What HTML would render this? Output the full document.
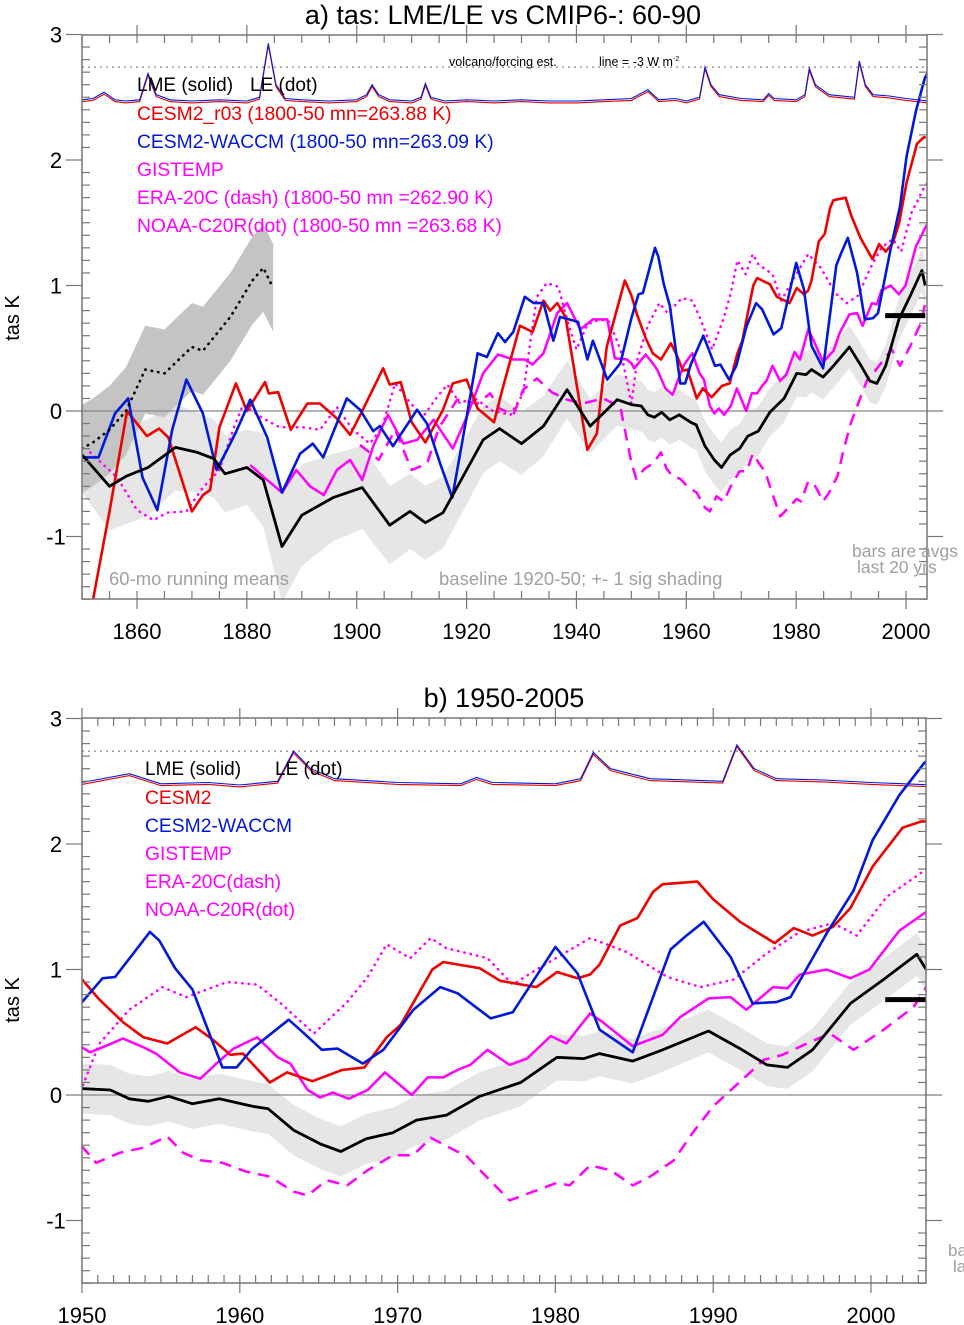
<!DOCTYPE html>
<html><head><meta charset="utf-8">
<style>
html,body{margin:0;padding:0;background:#fff;}
svg{display:block;font-family:"Liberation Sans",Arial,sans-serif;}
</style></head>
<body>
<svg id="chart" width="964" height="1325" viewBox="0 0 964 1325" xmlns="http://www.w3.org/2000/svg">
<defs>
<clipPath id="clipA"><rect x="82" y="35" width="845" height="564"/></clipPath>
<clipPath id="clipB"><rect x="82" y="718" width="844" height="565"/></clipPath>
</defs>
<text x="503" y="24" font-size="27" text-anchor="middle">a) tas: LME/LE vs CMIP6-: 60-90</text>
<text x="504" y="707" font-size="27" text-anchor="middle">b) 1950-2005</text>
<text transform="translate(19,318) rotate(-90)" font-size="20" text-anchor="middle">tas K</text>
<text transform="translate(19,1000) rotate(-90)" font-size="20" text-anchor="middle">tas K</text>
<g id="gA"></g>
<g id="gB"></g>
</svg>
<script>
// ---- data (years / anomaly K) ----
const blackT=[1850,1852,1855,1858,1862,1867,1871,1874,1876,1880,1883,1886.4,1890,1895.7,1901,1906,1909.7,1912.5,1915.7,1920,1923,1926,1930,1934,1938.3,1942.5,1947.4,1950.1,1951.8,1953,1954.2,1955.5,1957,1958.7,1960.8,1961.8,1963.4,1965.1,1966.4,1968,1969.7,1971.2,1973.1,1975.2,1977.8,1980.1,1981.8,1982.8,1984.9,1986.8,1989.7,1991.7,1993.4,1994.7,1996.3,1998.7,2000.8,2002.9,2003.5];
const blackV=[-0.35,-0.45,-0.6,-0.52,-0.45,-0.29,-0.33,-0.38,-0.5,-0.45,-0.55,-1.08,-0.83,-0.69,-0.61,-0.91,-0.8,-0.89,-0.81,-0.47,-0.23,-0.14,-0.26,-0.12,0.17,-0.12,0.09,0.05,0.04,-0.03,-0.05,-0.01,-0.07,-0.03,-0.09,-0.11,-0.28,-0.39,-0.45,-0.35,-0.3,-0.2,-0.16,-0.01,0.1,0.3,0.29,0.33,0.27,0.36,0.51,0.37,0.24,0.22,0.36,0.73,0.92,1.12,1.0];
const sigT=[1850,1860,1870,1880,1886,1895,1910,1930,1950,1970,1990,2004];
const sigV=[0.3,0.4,0.32,0.3,0.45,0.35,0.3,0.25,0.2,0.2,0.17,0.17];
const leT=[1850,1852,1855,1858,1861.5,1865,1870,1872,1877,1881,1883,1884.8];
const leV=[-0.3,-0.25,-0.15,0.0,0.33,0.3,0.51,0.48,0.75,1.04,1.14,0.98];
const leSig=0.35;
const redT=[1852,1855,1858.2,1861.8,1864,1865.7,1870,1872,1873.3,1875,1878,1880,1883.3,1884,1885.7,1888,1891,1893.3,1896.4,1898.8,1901,1904.8,1906,1908,1910,1912.5,1915.7,1917.5,1920,1922,1925,1926.5,1929.7,1932,1934,1935.2,1936.5,1938,1942,1943.7,1945.5,1948.8,1950,1951.1,1952.6,1953.9,1955.4,1957.2,1958.3,1959.4,1960.2,1961.9,1963,1964.6,1966.5,1967.9,1969.3,1970.2,1972.2,1972.9,1973.8,1975.2,1976.5,1978.8,1980.1,1981.4,1982.2,1982.8,1984.1,1985.2,1986.2,1986.8,1989,1990,1991.7,1993.9,1995.1,1996.3,1997.6,1998.7,2000.1,2002,2003.2,2003.6];
const redV=[-1.5,-0.8,0.0,-0.2,-0.14,-0.21,-0.8,-0.67,-0.63,-0.13,0.22,0.0,0.23,0.14,0.15,-0.15,0.06,0.06,-0.06,-0.19,0.0,0.34,0.21,0.23,-0.09,-0.25,0.01,0.22,0.25,0.02,-0.09,0.17,0.68,0.63,0.88,0.8,0.86,0.75,-0.31,-0.18,0.51,1.04,0.92,0.76,0.58,0.46,0.41,0.54,0.44,0.32,0.33,0.1,0.18,0.11,0.2,0.22,0.46,0.56,1.0,1.06,1.04,1.01,0.91,0.86,0.98,0.93,0.96,1.04,1.35,1.41,1.62,1.68,1.7,1.56,1.38,1.21,1.33,1.27,1.34,1.49,1.82,2.13,2.18,2.18];
const blueT=[1850,1853,1856,1858.4,1861,1863.7,1866.4,1869,1872,1874.5,1876.4,1878.2,1880.6,1883.7,1886.4,1889.7,1892,1893.9,1898.2,1900.6,1903,1904.2,1906.6,1911,1912.8,1915.2,1917.4,1920,1922,1923.7,1925.7,1927,1928.5,1930.6,1932.2,1934,1935.8,1937,1940.3,1942,1943,1945.6,1948,1950,1951.3,1952.1,1954.3,1954.9,1955.9,1957,1958.9,1959.8,1960.8,1963.1,1964,1965.2,1966.2,1967.8,1969.1,1971,1972.7,1973.8,1975.9,1977.3,1980,1981.4,1982.8,1984.9,1987.3,1988.3,1989.4,1991.1,1992.5,1994,1994.9,1997.2,1998.9,2000.1,2001.8,2003.4,2004];
const blueV=[-0.37,-0.37,-0.02,0.1,-0.53,-0.79,-0.15,0.25,-0.02,-0.47,-0.31,-0.15,0.09,-0.21,-0.65,-0.34,-0.26,-0.37,0.1,0.01,-0.16,-0.12,-0.28,0.01,-0.1,-0.42,-0.69,-0.05,0.46,0.43,0.62,0.55,0.63,0.91,0.86,0.86,0.56,0.75,0.71,0.41,0.56,0.25,0.38,0.74,0.93,0.94,1.3,1.23,1.01,0.84,0.22,0.22,0.37,0.6,0.5,0.36,0.37,0.25,0.36,0.68,0.86,0.81,0.61,0.66,1.18,0.97,0.52,0.34,1.16,1.27,1.38,1.1,0.73,0.74,0.78,1.29,1.63,2.03,2.39,2.65,2.7];
const gisT=[1880.6,1883.7,1886.4,1889,1891.5,1894,1896.4,1898.8,1901,1903,1905.7,1908.5,1911,1914,1917.5,1920,1923,1925.7,1928.5,1930.6,1932,1934,1936.5,1938.3,1940.7,1943,1945.6,1947,1949.2,1950,1950.5,1951.3,1952.6,1953.9,1954.7,1956.2,1957.5,1958.6,1959.6,1961.1,1962.4,1963.2,1964.3,1965.1,1965.9,1966.9,1968.1,1969.2,1970.9,1971.9,1972.9,1973.8,1974.6,1975.7,1977.1,1978.2,1979.7,1980.7,1982.2,1983,1984.9,1986.8,1987.9,1989.7,1991.1,1992.1,1993.8,1994.7,1995.5,1997.2,1998.7,1999.9,2001.8,2003.4,2004];
const gisV=[-0.43,-0.55,-0.65,-0.47,-0.6,-0.67,-0.47,-0.39,-0.55,-0.28,-0.03,-0.26,-0.23,-0.07,-0.3,-0.05,0.3,0.45,0.41,0.41,0.37,0.46,0.78,0.86,0.65,0.73,0.73,0.42,0.41,0.38,0.34,0.38,0.45,0.38,0.33,0.18,0.13,0.26,0.37,0.46,0.3,0.25,0.04,-0.02,0.02,-0.03,0.04,0.18,0.0,0.14,0.14,0.2,0.24,0.36,0.24,0.29,0.47,0.41,0.65,0.58,0.39,0.48,0.62,0.77,0.78,0.68,0.86,0.85,0.96,1.0,0.93,1.0,1.31,1.45,1.5];
const eraT=[1900.6,1904,1907,1910,1912.8,1915,1918.3,1922,1924.3,1926,1928.5,1930.3,1932.8,1935.5,1938.3,1941.2,1944.9,1948,1950,1950.9,1952.4,1953.9,1955.4,1956.4,1957.5,1958.9,1960.4,1961.9,1963.4,1964.3,1965.5,1966.8,1968.1,1969.7,1971,1972.1,1973.3,1974.4,1975.7,1977.1,1978.6,1980.1,1980.9,1982.2,1983.5,1984.9,1986,1987.5,1988.7,1990,1991.3,1993.2,1994.4,1996.1,1997.4,1998.9,2000.8,2002.7,2003.6];
const eraV=[-0.27,-0.39,-0.15,-0.47,-0.42,-0.13,0.09,0.06,0.14,0.02,-0.03,0.17,0.26,0.15,0.09,0.06,0.1,0.03,-0.41,-0.54,-0.46,-0.42,-0.33,-0.46,-0.52,-0.54,-0.61,-0.65,-0.77,-0.8,-0.68,-0.72,-0.6,-0.48,-0.48,-0.34,-0.42,-0.49,-0.66,-0.84,-0.77,-0.7,-0.72,-0.56,-0.6,-0.72,-0.65,-0.52,-0.3,-0.09,0.06,0.28,0.32,0.42,0.49,0.36,0.52,0.7,0.88];
const noaaT=[1851.5,1856.4,1860,1863,1865.5,1869,1872,1875,1877.5,1879.3,1883,1886,1890.2,1893.3,1896.4,1899.3,1902.4,1904.6,1907,1909.3,1912,1914.6,1916.5,1918.8,1921.2,1924.8,1928,1930.3,1931.6,1932.8,1934.6,1936.7,1938.3,1940,1942,1944.3,1946,1948,1950,1951.1,1953,1955.1,1956.6,1959.2,1961.1,1962.6,1964.7,1966.8,1968.1,1969.3,1970.8,1972.1,1973.1,1975.7,1977.3,1978.8,1982.2,1984.5,1987.1,1989.2,1991.3,1993.4,1995.5,1997.6,1999.1,2001,2003.4,2004];
const noaaV=[-0.33,-0.53,-0.79,-0.87,-0.81,-0.8,-0.61,-0.47,-0.15,0.05,-0.06,-0.13,-0.13,-0.15,0.03,-0.15,-0.26,-0.13,0.22,0.09,-0.05,0.11,0.21,0.06,0.11,0.0,-0.03,0.14,0.55,0.91,1.02,0.99,0.73,0.49,0.69,0.73,0.71,0.49,0.06,0.41,0.68,0.86,0.78,0.9,0.88,0.73,0.49,0.74,0.94,1.2,1.09,1.25,1.17,1.09,0.88,1.0,1.25,1.14,0.94,0.86,0.92,1.13,1.3,1.37,1.27,1.58,1.79,1.82];
const volcT=[1850,1852,1854,1856,1858,1860.5,1862,1863.5,1866,1870,1875,1880,1882.3,1883.9,1885.3,1887,1890,1895,1900,1901.8,1902.8,1904,1906,1910,1911.7,1912.5,1913.5,1916,1920,1925,1930,1935,1940,1945,1950,1953,1955,1958,1960,1962.4,1963.4,1964.5,1966,1970,1974,1975,1976,1980,1981.6,1982.4,1983.5,1986,1990.6,1991.5,1992.6,1994,1997,2000,2004];
const volcV=[2.48,2.49,2.54,2.48,2.47,2.48,2.69,2.52,2.48,2.47,2.48,2.47,2.5,2.93,2.6,2.49,2.48,2.47,2.48,2.52,2.6,2.52,2.48,2.47,2.5,2.61,2.5,2.47,2.48,2.47,2.48,2.47,2.47,2.48,2.49,2.56,2.48,2.49,2.47,2.5,2.74,2.6,2.52,2.49,2.48,2.53,2.49,2.48,2.52,2.73,2.6,2.52,2.5,2.79,2.6,2.52,2.51,2.49,2.47];
const volcRedOffset=[-0.015];
const forcingLine=[2.74];
const barValue=[0.76];
const barYearsA=[1996.2,2003.5];
const barYearsB=[2000.9,2003.5];

const NS="http://www.w3.org/2000/svg";
function mk(parent,tag,attrs){const e=document.createElementNS(NS,tag);for(const k in attrs)e.setAttribute(k,attrs[k]);parent.appendChild(e);return e;}
function interp(T,V,t){if(t<=T[0])return V[0];for(let i=1;i<T.length;i++){if(t<=T[i]){const f=(t-T[i-1])/(T[i]-T[i-1]);return V[i-1]+f*(V[i]-V[i-1]);}}return V[V.length-1];}

function panel(gid,P){
  const g=document.getElementById(gid);
  const X=y=>P.ox+(y-P.yr0)*P.pxy, Y=v=>P.y0-v*P.pxv;
  const pl=(T,V,off)=>T.map((t,i)=>X(t).toFixed(1)+","+Y(V[i]+(off||0)).toFixed(1)).join(" ");
  const body=mk(g,"g",{"clip-path":"url(#"+P.clip+")"});
  
  
  const up=blackT.map(t=>X(t).toFixed(1)+","+Y(interp(blackT,blackV,t)+interp(sigT,sigV,t)).toFixed(1));
  const lo=blackT.slice().reverse().map(t=>X(t).toFixed(1)+","+Y(interp(blackT,blackV,t)-interp(sigT,sigV,t)).toFixed(1));
  const sh=mk(body,"polygon",{points:up.concat(lo).join(" "),fill:"#e6e6e6"});
  
  
  const up2=leT.map((t,i)=>X(t).toFixed(1)+","+Y(leV[i]+leSig).toFixed(1));
  const lo2=leT.slice().reverse().map((t,i)=>X(t).toFixed(1)+","+Y(leV[leT.length-1-i]-leSig).toFixed(1));
  const sh2=mk(body,"polygon",{points:up2.concat(lo2).join(" "),fill:"#c4c4c4"});
  
  
  const z=mk(body,"line",{x1:P.x0,x2:P.x1,y1:Y(0),y2:Y(0),stroke:"#888","stroke-width":1.2});
  
  
  const fl=mk(body,"line",{x1:P.x0,x2:P.x1,y1:Y(forcingLine[0]),y2:Y(forcingLine[0]),stroke:"#666","stroke-width":1,"stroke-dasharray":"2,4"});
  
  
  const vr=mk(body,"polyline",{points:pl(volcT,volcV,volcRedOffset[0]),fill:"none",stroke:"#e00000","stroke-width":1.1});
  
  
  const vb=mk(body,"polyline",{points:pl(volcT,volcV,0),fill:"none",stroke:"#0018e0","stroke-width":1.1});
  
  
  const S=[
    ["noaa-c20r-line",noaaT,noaaV,"#ff00ff","2.5","dot"],
    ["era20c-line",eraT,eraV,"#ff00ff","2.5","12,8"],
    ["gistemp-line",gisT,gisV,"#ff00ff","2.5",""],
    ["cesm2-line",redT,redV,"#ee0000","2.6",""],
    ["cesm2-waccm-line",blueT,blueV,"#0018d8","2.6",""],
    ["le-mean-line",leT,leV,"#000","2.6","dot"],
    ["lme-mean-line",blackT,blackV,"#000","2.8",""]];
  S.forEach(s=>{
    const e=mk(body,"polyline",{points:pl(s[1],s[2]),fill:"none",stroke:s[3],"stroke-width":s[4],"stroke-linejoin":"round","stroke-linecap":s[5]=="dot"?"round":"butt"});
    if(s[5])e.setAttribute("stroke-dasharray",s[5]=="dot"?"0.5,6":s[5]);
    
    
  });
  const bar=mk(g,"line",{x1:X(P.bar[0]),x2:X(P.bar[1]),y1:Y(barValue[0]),y2:Y(barValue[0]),stroke:"#000","stroke-width":5});
  
  
  const fr=mk(g,"rect",{x:P.x0,y:P.top,width:P.x1-P.x0,height:P.bot-P.top,fill:"none",stroke:"#777","stroke-width":1.5});
  
  
  const tk=mk(g,"g",{stroke:"#777","stroke-width":1.2});
  
  
  for(let k=Math.round(P.vmin*10);k<=Math.round(P.vmax*10);k++){
    const yy=Y(k/10), maj=(k%10===0);
    mk(tk,"line",{x1:P.x0-(maj?16:0),x2:P.x0+(maj?0:8),y1:yy,y2:yy});
    mk(tk,"line",{x1:P.x1-(maj?0:8),x2:P.x1+(maj?16:0),y1:yy,y2:yy});
    if(maj){const t=mk(g,"text",{x:P.x0-26,y:yy+8,"font-size":22,"text-anchor":"middle"});t.textContent=String(k/10);
      
      }
  }
  for(let yr=P.xt0;yr<=P.xt1;yr+=P.minor){
    const xx=X(yr); if(xx<P.x0-0.5||xx>P.x1+0.5)continue; const maj=(yr%P.major===0);
    mk(tk,"line",{x1:xx,x2:xx,y1:P.bot-8,y2:P.bot+(maj?10:0)});
    mk(tk,"line",{x1:xx,x2:xx,y1:P.top+8,y2:P.top-(maj?10:0)});
    if(maj){const t=mk(g,"text",{x:xx,y:P.bot+40,"font-size":22,"text-anchor":"middle"});t.textContent=yr;
      
      }
  }
}
panel("gA",{x0:82,x1:927,top:35,bot:599,ox:137,yr0:1860,pxy:5.493,y0:411,pxv:125.5,vmin:-1.5,vmax:3,xt0:1850,xt1:2005,minor:5,major:20,clip:"clipA",bar:barYearsA});
panel("gB",{x0:82,x1:926,top:718,bot:1283,ox:82,yr0:1950,pxy:15.78,y0:1095,pxv:125.5,vmin:-1.5,vmax:3,xt0:1950,xt1:2004,minor:1,major:10,clip:"clipB",bar:barYearsB});

function txt(x,y,s,col,size,name){const t=mk(document.getElementById("chart"),"text",{x:x,y:y,fill:col,"font-size":size});t.textContent=s;
  
  return t;}
txt(137,91,"LME (solid)","#000",19,"legend-lme");
txt(250,91,"LE (dot)","#000",19,"legend-le");
txt(137,120,"CESM2_r03 (1800-50 mn=263.88 K)","#ee0000",19.3,"legend-cesm2");
txt(137,148,"CESM2-WACCM (1800-50 mn=263.09 K)","#0018d8",19.3,"legend-waccm");
txt(137,176,"GISTEMP","#ff00ff",19.3,"legend-gistemp");
txt(137,204,"ERA-20C (dash) (1800-50 mn =262.90 K)","#ff00ff",19.3,"legend-era20c");
txt(137,232,"NOAA-C20R(dot) (1800-50 mn =263.68 K)","#ff00ff",19.3,"legend-noaa");
txt(449,66,"volcano/forcing est.","#000",12.5,"volcano-label");
const lt=txt(599,66,"line = -3 W m","#000",12.5,"forcing-line-label");
const sup=mk(lt,"tspan",{dy:-5,"font-size":7});sup.textContent="-2";
txt(109,585,"60-mo running means","#a0a0a0",18.5,"note-running-means");
txt(439,585,"baseline 1920-50; +- 1 sig shading","#a0a0a0",18.5,"note-baseline");
txt(852,557,"bars are avgs","#a0a0a0",17.5,"note-bars");
txt(857,573,"last 20 yrs","#a0a0a0",17.5,"note-last20");
txt(145,775,"LME (solid)","#000",19,"legend-b-lme");
txt(275,775,"LE (dot)","#000",19,"legend-b-le");
txt(145,804,"CESM2","#ee0000",19.3,"legend-b-cesm2");
txt(145,832,"CESM2-WACCM","#0018d8",19.3,"legend-b-waccm");
txt(145,860,"GISTEMP","#ff00ff",19.3,"legend-b-gistemp");
txt(145,888,"ERA-20C(dash)","#ff00ff",19.3,"legend-b-era20c");
txt(145,916,"NOAA-C20R(dot)","#ff00ff",19.3,"legend-b-noaa");
txt(948,1256,"ba","#a0a0a0",17,"note-b-bars");
txt(953,1272,"la","#a0a0a0",17,"note-b-last");
</script>
</body></html>
